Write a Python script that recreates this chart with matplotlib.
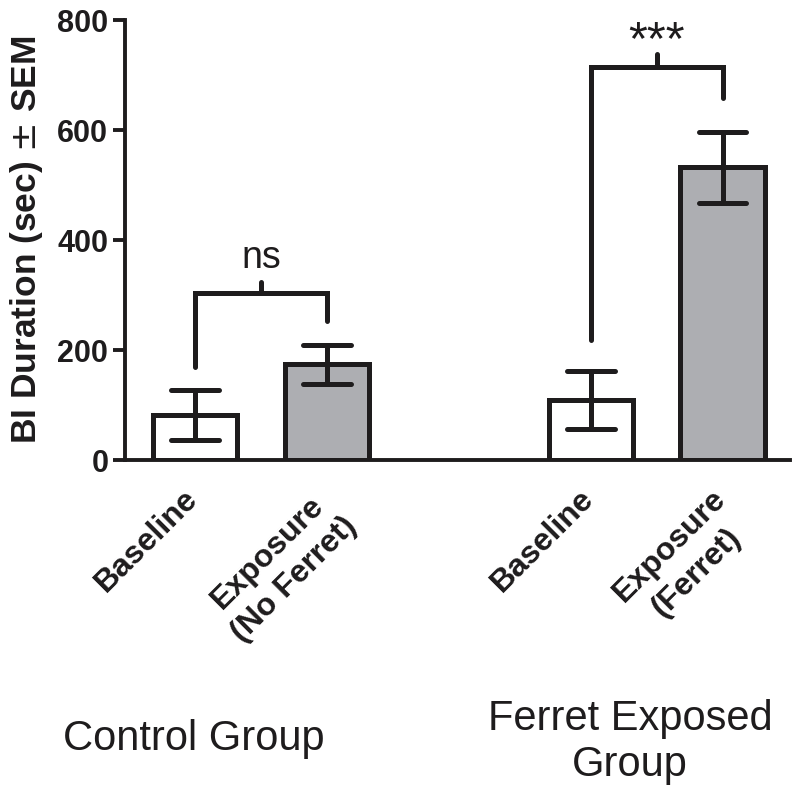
import matplotlib
matplotlib.use("Agg")
import matplotlib.pyplot as plt
import matplotlib.transforms as mtransforms

plt.rcParams['font.family'] = ['Liberation Sans', 'DejaVu Sans']

# data
labels = ["Baseline", "Exposure\n(No Ferret)", "Baseline", "Exposure\n(Ferret)"]
positions = [0, 1, 3, 4]
means = [82, 174, 109, 532]
sems = [46, 35, 53, 64]
fills = ["white", "#adaeb2", "white", "#adaeb2"]

# significance brackets: (left bar, right bar, bracket height, left leg end, right leg end, tick top, text)
brackets = [
    (0, 1, 303, 170, 253, 324, "ns"),
    (2, 3, 715, 219, 658, 738, "***"),
]
group_names = ["Control Group", "Ferret Exposed\nGroup"]

ink = "#1e1c1d"
lw = 3.6

fig = plt.figure(figsize=(8, 7.97), dpi=100)
ax = fig.add_axes([0.15625, 0.4228, 0.83125, 0.5521])

ax.bar(positions, means, width=0.64, color=fills, edgecolor=ink, linewidth=lw, zorder=2)

# error bars drawn by hand so the caps can be round
lo = [m - s for m, s in zip(means, sems)]
hi = [m + s for m, s in zip(means, sems)]
ax.vlines(positions, lo, hi, colors=ink, linewidth=lw, capstyle='round', zorder=3)
cw = 0.18
ax.hlines(lo, [p - cw for p in positions], [p + cw for p in positions], colors=ink,
          linewidth=lw, capstyle='round', zorder=3)
ax.hlines(hi, [p - cw for p in positions], [p + cw for p in positions], colors=ink,
          linewidth=lw, capstyle='round', zorder=3)

for i, j, top, l_end, r_end, tick, txt in brackets:
    xl, xr = positions[i], positions[j]
    ax.plot([xl, xl, xr, xr], [l_end, top, top, r_end], color=ink, lw=lw,
            solid_capstyle='round', solid_joinstyle='miter', zorder=3)
    xm = (xl + xr) / 2
    ax.plot([xm, xm], [top, tick], color=ink, lw=lw, solid_capstyle='round', zorder=3)
    if txt == "ns":
        ax.text(xm, tick + 25, txt, ha='center', va='baseline', fontsize=27, color=ink)
    else:
        ax.text(xm, top + 24, txt, ha='center', va='baseline', fontsize=35, color=ink)

ax.set_xlim(-0.53, 4.51)
ax.set_ylim(0, 800)
ax.set_yticks([0, 200, 400, 600, 800])
ax.set_xticks(positions)
ax.set_xticklabels([])

# category labels, rotated, hung just under the axis
off = mtransforms.ScaledTranslation(-0.12, -0.24, fig.dpi_scale_trans)
for p, lab in zip(positions, labels):
    ax.text(p, 0, lab, transform=ax.get_xaxis_transform() + off,
            rotation=45, ha='right', va='top', rotation_mode='anchor',
            fontweight='bold', fontsize=23, multialignment='center',
            linespacing=1.35, color=ink)

for t in ax.get_yticklabels():
    t.set_fontweight('bold')
    t.set_fontsize(22)
    t.set_color(ink)

ax.tick_params(axis='x', length=0)
ax.tick_params(axis='y', length=9, width=2.8, color=ink, pad=3, direction='out')
for s in ['top', 'right']:
    ax.spines[s].set_visible(False)
for s in ['left', 'bottom']:
    ax.spines[s].set_linewidth(2.8)
    ax.spines[s].set_color(ink)

ax.set_ylabel("BI Duration (sec) $\\pm$ SEM", fontsize=25.5, fontweight='bold',
              color=ink, labelpad=9)

fig.text(194 / 800, 1 - 750 / 797, group_names[0], ha='center', va='baseline',
         fontsize=30, color=ink)
fig.text(630 / 800, 1 - 699 / 797, group_names[1], ha='center', va='top',
         fontsize=30, color=ink, linespacing=1.19)

fig.savefig("out.png", dpi=100)
